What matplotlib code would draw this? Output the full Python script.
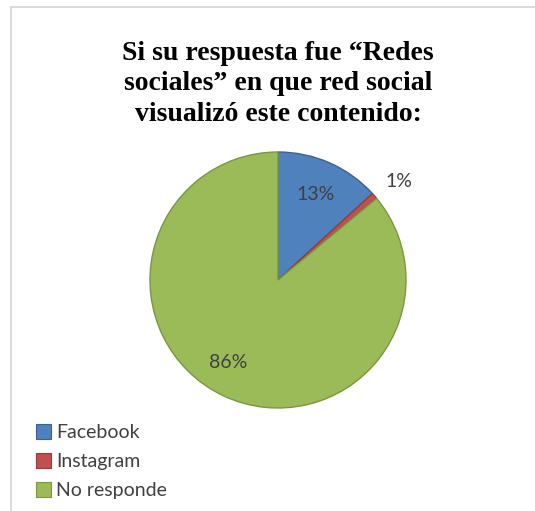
import matplotlib
matplotlib.use("Agg")
import matplotlib.pyplot as plt
from matplotlib.patches import Rectangle
from matplotlib.lines import Line2D
import numpy as np

categories = ["Facebook", "Instagram", "No responde"]
values = [13.2, 0.8, 86.0]
labels_pct = ["13%", "1%", "86%"]
colors = ["#4F81BD", "#C0504D", "#9BBB59"]
edges = ["#3A6296", "#9A3B38", "#7A9740"]

W, H = 535, 511
fig = plt.figure(figsize=(W/100, H/100), dpi=100)
fig.patch.set_facecolor("white")

# frame (top and left lines only)
fig.add_artist(Line2D([10.5/W, 10.5/W], [0, 1 - 7/H], transform=fig.transFigure,
                      color="#D9D9D9", linewidth=1.3))
fig.add_artist(Line2D([10.5/W, 1], [1 - 7/H, 1 - 7/H], transform=fig.transFigure,
                      color="#D9D9D9", linewidth=1.3))

fig.text(278/W, 1 - 84/H, "Si su respuesta fue \u201cRedes\nsociales\u201d en que red social\nvisualiz\u00f3 este contenido:",
         ha="center", va="center", fontsize=20, fontweight="bold",
         family="Liberation Serif", linespacing=1.3)

cx, cy, r = 278, 280, 128
ax = fig.add_axes([(cx - r)/W, (H - cy - r)/H, 2*r/W, 2*r/H])
wedges, _ = ax.pie(values, colors=colors, startangle=90, counterclock=False,
                   wedgeprops=dict(linewidth=1.0))
for w, e in zip(wedges, edges):
    w.set_edgecolor(e)
ax.set_xlim(-1, 1)
ax.set_ylim(-1, 1)
ax.set_aspect("equal")
ax.axis("off")

dists = [0.73, 1.22, 0.75]
offs = [0, -2, -6]
for w, lab, d, o in zip(wedges, labels_pct, dists, offs):
    ang = np.deg2rad((w.theta1 + w.theta2)/2 + o)
    ax.text(d*np.cos(ang), d*np.sin(ang), lab, ha="center", va="center",
            fontsize=14, color="#404040", family="Lato")

handles = [Rectangle((0, 0), 1, 1, facecolor=c, edgecolor=e, linewidth=0.8) for c, e in zip(colors, edges)]
leg = fig.legend(handles, categories, loc="upper left", bbox_to_anchor=(28/W, 1 - 416/H),
                 frameon=False, fontsize=14, handlelength=0.8, handleheight=0.8,
                 handletextpad=0.25, labelspacing=0.62, borderaxespad=0)
for t in leg.get_texts():
    t.set_color("#404040")
    t.set_family("Lato")

fig.savefig("out.png", dpi=100)
